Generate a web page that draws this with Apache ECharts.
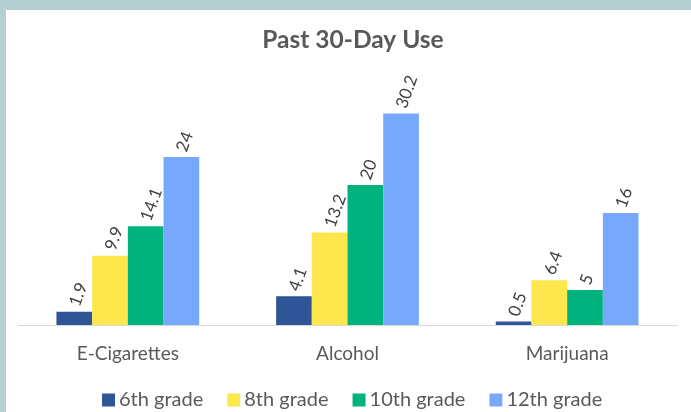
<!DOCTYPE html>
<html>
<head>
<meta charset="utf-8">
<script src="https://cdn.jsdelivr.net/npm/echarts@6/dist/echarts.min.js"></script>
<style>
html,body{margin:0;padding:0;background:#fff;}
#c{width:691px;height:412px;}
</style>
</head>
<body>
<div id="c"></div>
<script>
const categories = ['E-Cigarettes', 'Alcohol', 'Marijuana'];
const seriesNames = ['6th grade', '8th grade', '10th grade', '12th grade'];
const grade6 = [1.9, 4.1, 0.5];
const grade8 = [9.9, 13.2, 6.4];
const grade10 = [14.1, 20, 5];
const grade12 = [24, 30.2, 16];
const colors = ['#2F5597', '#FDE74C', '#00B27E', '#78A8FB'];
const values = [grade6, grade8, grade10, grade12];

const chart = echarts.init(document.getElementById('c'), null, {renderer: 'canvas'});
const FONT = 'Lato';
chart.setOption({
  backgroundColor: '#ffffff',
  animation: false,
  graphic: [
    {type: 'rect', left: 0, top: 0, shape: {width: 691, height: 10}, style: {fill: '#B6CFD0'}, z: 100},
    {type: 'rect', left: 0, top: 0, shape: {width: 6, height: 412}, style: {fill: '#B6CFD0'}, z: 100}
  ],
  title: {
    text: 'Past 30-Day Use',
    left: 348,
    textAlign: 'center',
    top: 23,
    textStyle: {fontFamily: FONT, fontSize: 24.5, fontWeight: 'bold', color: '#595959'}
  },
  legend: {
    data: seriesNames,
    left: 97,
    top: 385,
    icon: 'rect',
    itemWidth: 13,
    itemHeight: 13,
    itemGap: 24,
    textStyle: {fontFamily: FONT, fontSize: 20, color: '#595959', padding: [0, 0, 0, -1]}
  },
  grid: {left: 18, top: 80, width: 659, height: 245, containLabel: false},
  xAxis: {
    type: 'category',
    data: categories,
    axisLine: {lineStyle: {color: '#D9D9D9', width: 1}},
    axisTick: {show: false},
    axisLabel: {fontFamily: FONT, fontSize: 19, color: '#595959', margin: 19}
  },
  yAxis: {
    type: 'value',
    min: 0,
    max: 35,
    show: false,
    splitLine: {show: false}
  },
  series: seriesNames.map((name, i) => ({
    name: name,
    type: 'bar',
    data: values[i],
    barGap: '0%',
    barCategoryGap: '35%',
    itemStyle: {color: colors[i]},
    label: {
      show: true,
      position: 'top',
      rotate: 70,
      align: 'left',
      verticalAlign: 'middle',
      distance: 6,
      fontFamily: FONT,
      fontSize: 17,
      color: '#404040'
    }
  }))
});
</script>
</body>
</html>
